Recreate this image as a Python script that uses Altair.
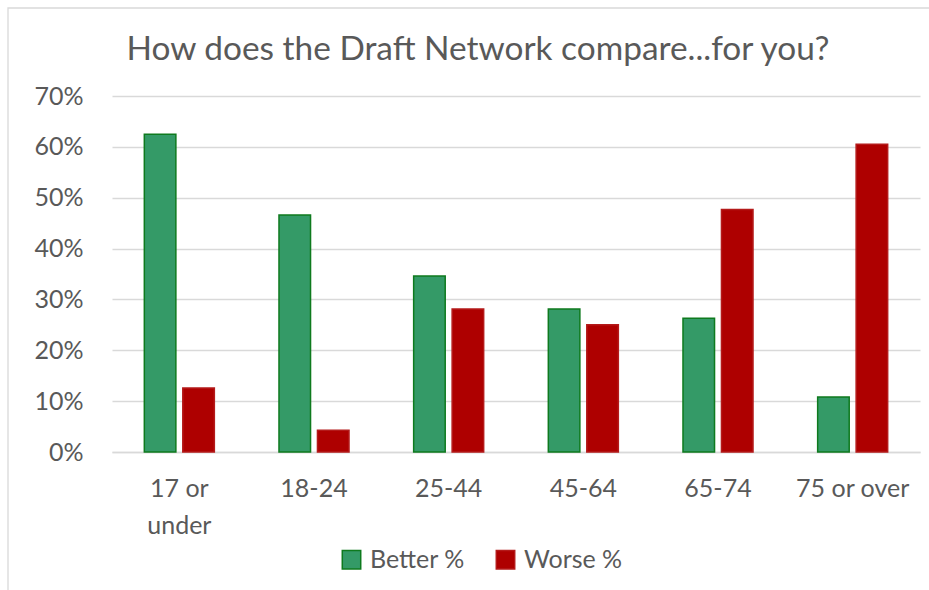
import altair as alt
import pandas as pd

# Survey results by age group
groups = ["17 or under", "18-24", "25-44", "45-64", "65-74", "75 or over"]
better = [0.625, 0.466, 0.346, 0.281, 0.263, 0.108]
worse = [0.126, 0.043, 0.281, 0.250, 0.477, 0.605]
series = ["Better %", "Worse %"]
y_ticks = [0, 0.1, 0.2, 0.3, 0.4, 0.5, 0.6, 0.7]

fill_colors = ["#349A67", "#AE0000"]
stroke_colors = ["#0E7A1E", "#B41A1A"]
text_color = "#595959"
font = "Lato"

rows = []
for g, b, w in zip(groups, better, worse):
    rows.append({"group": g, "series": series[0], "value": b})
    rows.append({"group": g, "series": series[1], "value": w})
df = pd.DataFrame(rows)

W, H = 808, 356

legend = alt.Legend(
    title=None,
    orient="none",
    legendX=227,
    legendY=451,
    direction="horizontal",
    symbolType="square",
    symbolSize=340,
    symbolStrokeWidth=1.5,
    labelFontSize=25,
    labelFont=font,
    labelColor=text_color,
    labelOffset=6,
    columnPadding=28,
)

bars = alt.Chart(df).mark_bar(strokeWidth=1.5).encode(
    x=alt.X(
        "group:N",
        sort=groups,
        scale=alt.Scale(paddingInner=0.48, paddingOuter=0.24),
        axis=alt.Axis(
            title=None,
            labelAngle=0,
            ticks=False,
            grid=False,
            domain=True,
            domainColor="#D9D9D9",
            domainWidth=1.3,
            labelFont=font,
            labelFontSize=25,
            labelColor=text_color,
            labelPadding=24,
            labelLineHeight=37,
            labelExpr="datum.value == '17 or under' ? ['17 or', 'under'] : datum.value",
        ),
    ),
    xOffset=alt.XOffset("series:N", sort=series, scale=alt.Scale(paddingInner=0.18)),
    y=alt.Y(
        "value:Q",
        scale=alt.Scale(domain=[0, 0.7], nice=False),
        axis=alt.Axis(
            title=None,
            values=y_ticks,
            format=".0%",
            ticks=False,
            domain=False,
            grid=True,
            gridColor="#D9D9D9",
            gridWidth=1.3,
            labelFont=font,
            labelFontSize=25,
            labelColor=text_color,
            labelPadding=29,
        ),
    ),
    fill=alt.Fill("series:N", sort=series, scale=alt.Scale(domain=series, range=fill_colors), legend=legend),
    stroke=alt.Stroke("series:N", sort=series, scale=alt.Scale(domain=series, range=stroke_colors), legend=legend),
)

# thin outer frame of the chart area
frame = alt.Chart(pd.DataFrame({"a": [0]})).mark_rect(
    fill=None, stroke="#D9D9D9", strokeWidth=1.3
).encode(
    x=alt.value(-104),
    x2=alt.value(W + 20),
    y=alt.value(-88),
    y2=alt.value(H + 160),
)

chart = alt.layer(frame, bars).properties(
    width=W,
    height=H,
    background="white",
    title=alt.TitleParams(
        "How does the Draft Network compare...for you?",
        font=font,
        fontSize=33.4,
        fontWeight="normal",
        color=text_color,
        anchor="middle",
        frame="group",
        baseline="alphabetic",
        dx=-38,
        offset=-86,
    ),
    autosize=alt.AutoSizeParams(type="none"),
    padding={"left": 112, "top": 96, "right": 9, "bottom": 138},
).configure_view(stroke=None, strokeWidth=0)

chart.save("out.html", embed_options={"renderer": "svg", "actions": False})
